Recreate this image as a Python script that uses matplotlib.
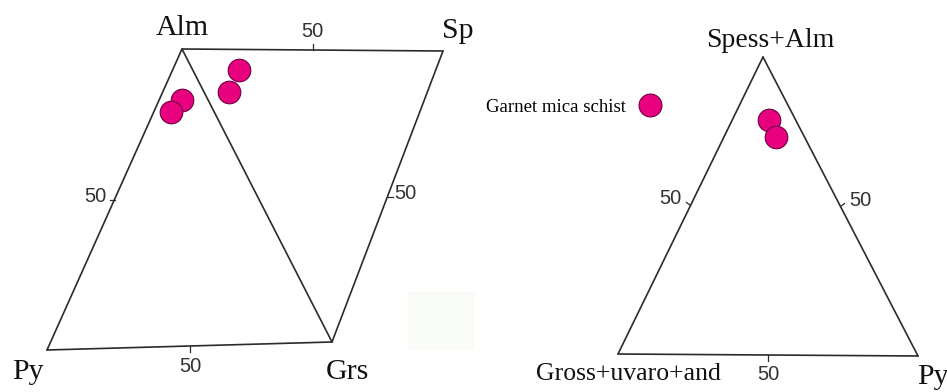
import numpy as np
import matplotlib
matplotlib.use("Agg")
import matplotlib.pyplot as plt
from matplotlib.lines import Line2D
from matplotlib.patches import Rectangle

# garnet compositions (mol %)
# left rhombus, lower triangle Alm-Py-Grs
LT_ALM = [83, 79]
LT_PY = [9, 15]
LT_GRS = [8, 6]
# left rhombus, upper triangle Alm-Sp-Grs
UT_ALM = [75, 76]
UT_SP = [18, 9.5]
UT_GRS = [7, 14.5]
# right triangle (Spess+Alm)-(Gross+uvaro+and)-Py
RT_SA = [79, 73.5]
RT_GUA = [9, 9.5]
RT_PY = [12, 17.5]

TICK_PCT = 50
LEGEND_LABEL = "Garnet mica schist"

FILL = "#e8007f"
EDGE = "#6d0046"
LINE = "#2b2b2b"
SERIF = "Liberation Serif"
SANS = "Liberation Sans"

# diagram corners in figure pixels (layout only)
ALM, SP, PY_L, GRS = (182, 49), (443, 51), (47, 350), (332, 342)
TOP, LEFT, RIGHT = (763, 57), (618, 354), (918, 356)


def tern(a, b, c, va, vb, vc):
    a, b, c = (np.asarray(v, float) for v in (a, b, c))
    s = a + b + c
    x = (a * va[0] + b * vb[0] + c * vc[0]) / s
    y = (a * va[1] + b * vb[1] + c * vc[1]) / s
    return x, y


def edge(ax, p, q):
    ax.plot([p[0], q[0]], [p[1], q[1]], color=LINE, lw=1.2, solid_capstyle="round")


def tick(ax, pt, dx, dy, label, lx, ly, ha):
    ax.plot([pt[0], pt[0] + dx], [pt[1], pt[1] + dy], color=LINE, lw=0.9)
    ax.text(pt[0] + lx, pt[1] + ly, label, family=SANS, fontsize=14.5,
            color="#333333", ha=ha, va="center")


fig = plt.figure(figsize=(9.47, 3.92), dpi=100)
ax = fig.add_axes([0, 0, 1, 1])
ax.set_xlim(0, 947)
ax.set_ylim(392, 0)
ax.set_axis_off()

# faint scan artefact
ax.add_patch(Rectangle((408, 292), 67, 58, color="#f9fbf6", lw=0, zorder=0))

# left: rhombus of two triangles
for p, q in [(ALM, SP), (SP, GRS), (GRS, PY_L), (PY_L, ALM), (ALM, GRS)]:
    edge(ax, p, q)

half = TICK_PCT
tick(ax, tern(half, 100 - half, 0, SP, ALM, GRS), 0, -6, "50", 0, -19, "center")
tick(ax, tern(half, 100 - half, 0, PY_L, ALM, GRS), -5, 0, "50", -8, -3, "right")
tick(ax, tern(half, 100 - half, 0, PY_L, GRS, ALM), 0, 6, "50", 1, 20, "center")
tick(ax, tern(half, 100 - half, 0, SP, GRS, ALM), 5, 0, "50", 7, -3, "left")

kw = dict(family=SERIF, fontsize=21.5, color="#111111")
ax.text(ALM[0], ALM[1] - 21, "Alm", ha="center", va="center", **kw)
ax.text(SP[0] + 15, SP[1] - 20, "Sp", ha="center", va="center", **kw)
ax.text(PY_L[0] - 19, PY_L[1] + 22, "Py", ha="center", va="center", **kw)
ax.text(GRS[0] + 15, GRS[1] + 30, "Grs", ha="center", va="center", **kw)

mk = dict(s=265, c=FILL, edgecolors=EDGE, linewidths=0.8, zorder=3)
x, y = tern(LT_ALM, LT_PY, LT_GRS, ALM, PY_L, GRS)
ax.scatter(x, y, **mk)
x, y = tern(UT_ALM, UT_SP, UT_GRS, ALM, SP, GRS)
ax.scatter(x, y, **mk)

# right: single triangle
for p, q in [(TOP, LEFT), (LEFT, RIGHT), (RIGHT, TOP)]:
    edge(ax, p, q)

tick(ax, tern(half, 100 - half, 0, LEFT, RIGHT, TOP), 0, 6, "50", 0, 19, "center")
tick(ax, tern(half, 100 - half, 0, LEFT, TOP, RIGHT), -4, -3, "50", -9, -7, "right")
tick(ax, tern(half, 100 - half, 0, RIGHT, TOP, LEFT), 4, -3, "50", 9, -6, "left")

ax.text(TOP[0] + 7, TOP[1] - 17, "Spess+Alm", ha="center", va="center",
        family=SERIF, fontsize=20, color="#111111")
ax.text(LEFT[0] + 10, LEFT[1] + 20, "Gross+uvaro+and", ha="center", va="center",
        family=SERIF, fontsize=18.5, color="#111111")
ax.text(RIGHT[0] + 15, RIGHT[1] + 21, "Py", ha="center", va="center", **kw)

x, y = tern(RT_SA, RT_GUA, RT_PY, TOP, LEFT, RIGHT)
ax.scatter(x, y, **mk)

handle = Line2D([], [], ls="", marker="o", ms=16.5, mfc=FILL, mec=EDGE, mew=0.8)
ax.legend([handle], [LEGEND_LABEL], loc="center right", frameon=False,
          markerfirst=False, handlelength=1.0, handletextpad=0.75,
          borderpad=0, borderaxespad=0,
          bbox_to_anchor=(659 / 947, 1 - 107 / 392),
          prop={"family": SERIF, "size": 13.5})

fig.savefig("out.png", dpi=100)
